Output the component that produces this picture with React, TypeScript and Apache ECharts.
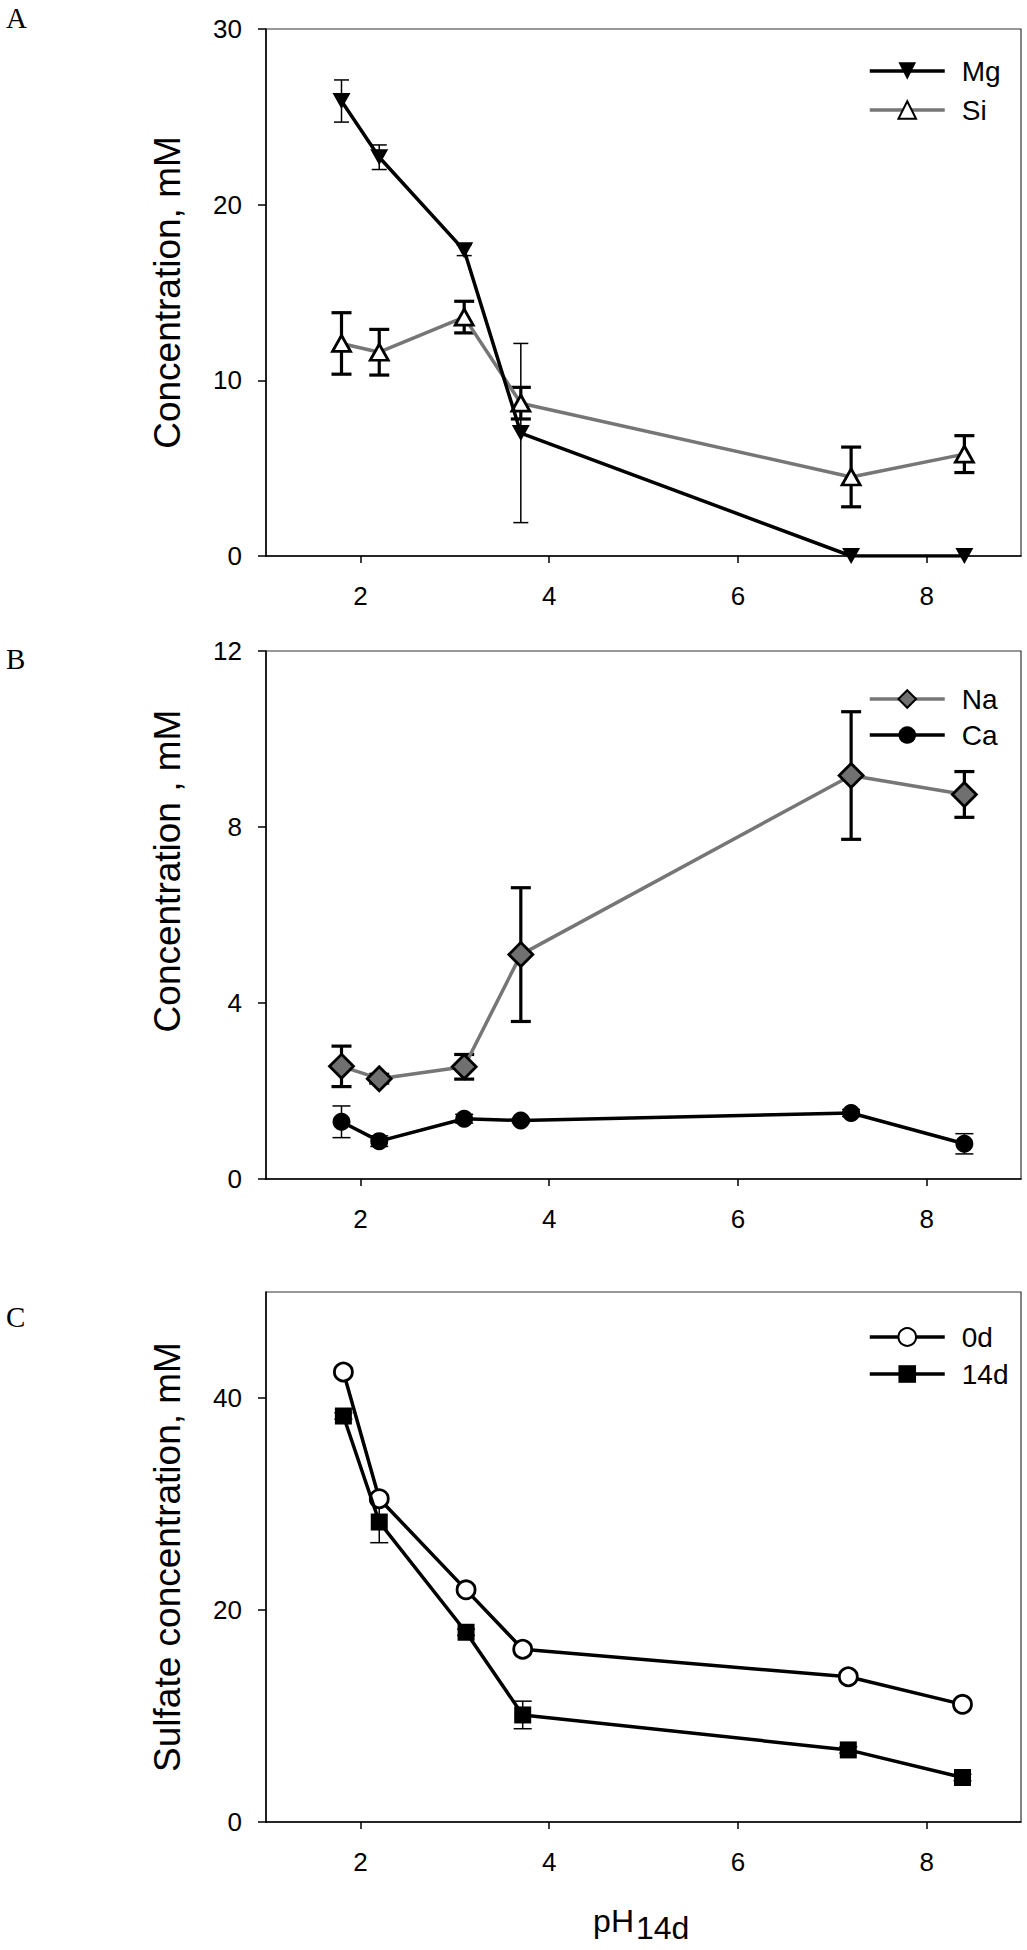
import React, { useEffect, useRef } from "react";
import * as echarts from "echarts";

// ---------- data ----------
const phAB = [1.8, 2.2, 3.1, 3.7, 7.2, 8.4];
const mgMean = [25.9, 22.7, 17.4, 7.0, 0, 0];
const mgErr = [1.2, 0.7, 0.3, 5.1, 0, 0];
const siMean = [12.1, 11.6, 13.6, 8.7, 4.5, 5.8];
const siErr = [1.75, 1.3, 0.9, 0.9, 1.7, 1.05];

const naMean = [2.56, 2.28, 2.55, 5.1, 9.17, 8.74];
const naErr = [0.46, 0.1, 0.28, 1.52, 1.45, 0.52];
const caMean = [1.3, 0.86, 1.37, 1.33, 1.5, 0.8];
const caErr = [0.36, 0.12, 0.1, 0.05, 0.08, 0.23];

const phC = [1.82, 2.2, 3.12, 3.72, 7.17, 8.38];
const d0Mean = [42.45, 30.5, 21.9, 16.3, 13.7, 11.1];
const d14Mean = [38.3, 28.3, 17.9, 10.1, 6.8, 4.2];
const d14Err = [0.3, 1.95, 0.3, 1.3, 0.3, 0.3];

const xTicks = [2, 4, 6, 8];
const yTicksA = [0, 10, 20, 30];
const yTicksB = [0, 4, 8, 12];
const yTicksC = [0, 20, 40];

const panelLetters = ["A", "B", "C"];
const yTitles = ["Concentration, mM", "Concentration , mM", "Sulfate concentration, mM"];

// ---------- styling ----------
const FONT = "'Liberation Sans', Arial, sans-serif";
const SERIF = "'Liberation Serif', 'Times New Roman', serif";
const GRAY = "#767676";
const LW = 3.5;

const grids = [
  { left: 266, top: 29, width: 755, height: 527 },
  { left: 266, top: 651, width: 755, height: 528 },
  { left: 266, top: 1292, width: 755, height: 530 },
];

function pairs(xs: number[], ys: number[]) {
  return xs.map((x, i) => [x, ys[i]]);
}

function errData(xs: number[], m: number[], e: number[]) {
  const out: number[][] = [];
  xs.forEach((x, i) => {
    if (e[i] > 0) out.push([x, m[i] - e[i], m[i] + e[i]]);
  });
  return out;
}

function errSeries(name: string, idx: number, data: number[][], lw: number, cap: number) {
  return {
    type: "custom",
    name,
    xAxisIndex: idx,
    yAxisIndex: idx,
    z: 1,
    silent: true,
    data,
    encode: { x: 0, y: [1, 2] },
    renderItem: (_p: any, api: any) => {
      const x = api.value(0);
      const lo = api.value(1);
      const hi = api.value(2);
      const a = api.coord([x, hi]);
      const b = api.coord([x, lo]);
      const st = { stroke: "#000", lineWidth: lw };
      return {
        type: "group",
        children: [
          { type: "line", shape: { x1: a[0], y1: a[1], x2: b[0], y2: b[1] }, style: st },
          { type: "line", shape: { x1: a[0] - cap / 2, y1: a[1], x2: a[0] + cap / 2, y2: a[1] }, style: st },
          { type: "line", shape: { x1: b[0] - cap / 2, y1: b[1], x2: b[0] + cap / 2, y2: b[1] }, style: st },
        ],
      };
    },
  };
}

function xAxisCfg(i: number) {
  return {
    type: "value",
    gridIndex: i,
    min: 1,
    max: 9,
    axisLine: { show: true, onZero: false, lineStyle: { color: "#000", width: 1.5 } },
    axisTick: { show: true, inside: false, length: 7, customValues: xTicks, lineStyle: { color: "#000", width: 1.5 } },
    axisLabel: { customValues: xTicks, fontSize: 26, color: "#000", margin: 27, fontFamily: FONT },
    splitLine: { show: false },
  };
}

function yAxisCfg(i: number, max: number, ticks: number[]) {
  return {
    type: "value",
    gridIndex: i,
    min: 0,
    max,
    axisLine: { show: true, onZero: false, lineStyle: { color: "#000", width: 1.5 } },
    axisTick: { show: true, inside: false, length: 8, customValues: ticks, lineStyle: { color: "#000", width: 1.5 } },
    axisLabel: { customValues: ticks, fontSize: 26, color: "#000", margin: 24, fontFamily: FONT },
    splitLine: { show: false },
  };
}

function legendCfg(names: string[], top: number, gap: number) {
  return {
    show: true,
    orient: "vertical",
    left: 863,
    top,
    itemWidth: 75,
    itemHeight: 22,
    itemGap: gap,
    data: names,
    selectedMode: false,
    lineStyle: { width: LW },
    textStyle: { fontSize: 28, color: "#000", fontFamily: FONT, lineHeight: 30, padding: [0, 0, 0, 12] },
  };
}

function buildOption() {
  const series: any[] = [
    // Panel A
    errSeries("errMg", 0, errData(phAB, mgMean, mgErr), 1.5, 15),
    errSeries("errSi", 0, errData(phAB, siMean, siErr), 3.2, 20),
    {
      type: "line", name: "Mg", xAxisIndex: 0, yAxisIndex: 0, z: 3,
      data: pairs(phAB, mgMean),
      symbol: "triangle", symbolRotate: 180, symbolSize: [18, 16],
      itemStyle: { color: "#000" },
      lineStyle: { color: "#000", width: LW },
    },
    {
      type: "line", name: "Si", xAxisIndex: 0, yAxisIndex: 0, z: 2,
      data: pairs(phAB, siMean),
      symbol: "triangle", symbolSize: [18, 16], showAllSymbol: true,
      itemStyle: { color: "#fff", borderColor: "#000", borderWidth: 2.8 },
      lineStyle: { color: GRAY, width: LW },
    },
    // Panel B
    errSeries("errNa", 1, errData(phAB, naMean, naErr), 3.2, 20),
    errSeries("errCa", 1, errData(phAB, caMean, caErr), 1.5, 18),
    {
      type: "line", name: "Na", xAxisIndex: 1, yAxisIndex: 1, z: 2,
      data: pairs(phAB, naMean),
      symbol: "diamond", symbolSize: 24,
      itemStyle: { color: "#707070", borderColor: "#000", borderWidth: 2.8 },
      lineStyle: { color: GRAY, width: LW },
    },
    {
      type: "line", name: "Ca", xAxisIndex: 1, yAxisIndex: 1, z: 3,
      data: pairs(phAB, caMean),
      symbol: "circle", symbolSize: 18,
      itemStyle: { color: "#000" },
      lineStyle: { color: "#000", width: LW },
    },
    // Panel C
    errSeries("err14d", 2, errData(phC, d14Mean, d14Err), 1.5, 18),
    {
      type: "line", name: "0d", xAxisIndex: 2, yAxisIndex: 2, z: 2,
      data: pairs(phC, d0Mean),
      symbol: "circle", symbolSize: 18,
      itemStyle: { color: "#fff", borderColor: "#000", borderWidth: 2.8 },
      lineStyle: { color: "#000", width: LW },
    },
    {
      type: "line", name: "14d", xAxisIndex: 2, yAxisIndex: 2, z: 3,
      data: pairs(phC, d14Mean),
      symbol: "rect", symbolSize: 17,
      itemStyle: { color: "#000" },
      lineStyle: { color: "#000", width: LW },
    },
  ];

  const titleCenters = [
    grids[0].top + grids[0].height / 2,
    871,
    grids[2].top + grids[2].height / 2,
  ];
  const letterY = [18, 659, 1317];

  const graphic: any[] = [];
  panelLetters.forEach((l, i) => {
    graphic.push({
      type: "text", x: 6, y: letterY[i],
      style: { text: l, font: `29px ${SERIF}`, fill: "#000", align: "left", verticalAlign: "middle" },
    });
  });
  yTitles.forEach((t, i) => {
    graphic.push({
      type: "text", x: 167, y: titleCenters[i], rotation: Math.PI / 2,
      style: { text: t, font: `37px ${FONT}`, fill: "#000", align: "center", verticalAlign: "middle" },
    });
  });
  graphic.push({
    type: "text", x: 634, y: 1921,
    style: { text: "pH", font: `32px ${FONT}`, fill: "#000", align: "right", verticalAlign: "middle" },
  });
  graphic.push({
    type: "text", x: 636, y: 1928,
    style: { text: "14d", font: `32px ${FONT}`, fill: "#000", align: "left", verticalAlign: "middle" },
  });

  return {
    animation: false,
    backgroundColor: "#fff",
    grid: grids.map((g) => ({ ...g, show: true, borderColor: "#333", borderWidth: 1.2, backgroundColor: "transparent" })),
    xAxis: [xAxisCfg(0), xAxisCfg(1), xAxisCfg(2)],
    yAxis: [yAxisCfg(0, 30, yTicksA), yAxisCfg(1, 12, yTicksB), yAxisCfg(2, 50, yTicksC)],
    legend: [
      legendCfg(["Mg", "Si"], 51, 9),
      legendCfg(["Na", "Ca"], 679, 6),
      legendCfg(["0d", "14d"], 1317, 7),
    ],
    graphic,
    series,
  };
}

export default function App() {
  const ref = useRef<HTMLDivElement>(null);
  useEffect(() => {
    if (!ref.current) return;
    const chart = echarts.init(ref.current, undefined, { renderer: "svg" });
    chart.setOption(buildOption() as any);
    return () => chart.dispose();
  }, []);
  return (
    <div
      ref={ref}
      style={{ position: "absolute", left: 0, top: 0, width: 1027, height: 1950, background: "#fff" }}
    />
  );
}
